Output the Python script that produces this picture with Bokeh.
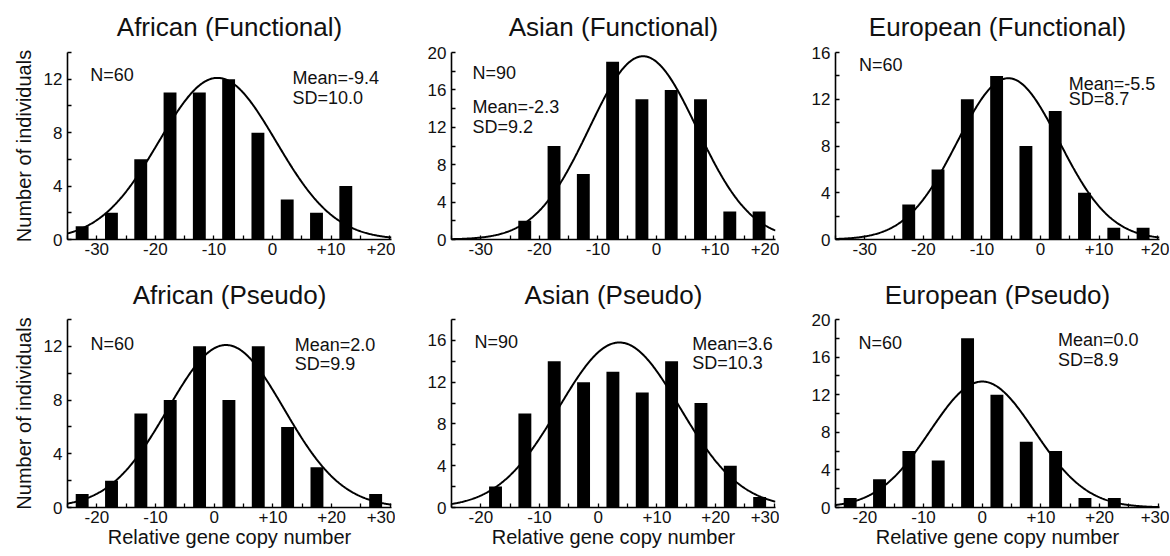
import numpy as np
from bokeh.plotting import figure
from bokeh.models import FixedTicker, Label, Range1d
from bokeh.layouts import column, row
from bokeh.embed import file_html
from bokeh.resources import INLINE

FONT = "Liberation Sans"

# ---------------- data ----------------
panel_titles = ["African (Functional)", "Asian (Functional)", "European (Functional)",
                "African (Pseudo)", "Asian (Pseudo)", "European (Pseudo)"]

functional_bins = [-32.5, -27.5, -22.5, -17.5, -12.5, -7.5, -2.5, 2.5, 7.5, 12.5, 17.5]
pseudo_bins = [-22.5, -17.5, -12.5, -7.5, -2.5, 2.5, 7.5, 12.5, 17.5, 22.5, 27.5]

african_functional = [1, 2, 6, 11, 11, 12, 8, 3, 2, 4, 0]
asian_functional = [0, 0, 2, 10, 7, 19, 15, 16, 15, 3, 3]
european_functional = [0, 0, 3, 6, 12, 14, 8, 11, 4, 1, 1]
african_pseudo = [1, 2, 7, 8, 12, 8, 12, 6, 3, 0, 1]
asian_pseudo = [0, 2, 9, 14, 12, 13, 11, 14, 10, 4, 1]
european_pseudo = [1, 3, 6, 5, 18, 12, 7, 6, 1, 1, 0]

sample_sizes = [60, 90, 60, 60, 90, 60]
means = [-9.4, -2.3, -5.5, 2.0, 3.6, 0.0]
sds = [10.0, 9.2, 8.7, 9.9, 10.3, 8.9]
curve_peaks = [12.1, 19.6, 13.8, 12.1, 15.8, 13.4]

functional_ticks = [-30, -20, -10, 0, 10, 20]
functional_minor = [-35, -25, -15, -5, 5, 15]
pseudo_ticks = [-20, -10, 0, 10, 20, 30]
pseudo_minor = [-25, -15, -5, 5, 15, 25]
tick_text = {-30: "-30", -20: "-20", -10: "-10", 0: "0", 10: "+10", 20: "+20", 30: "+30"}

y_tops = [14, 20, 16, 14, 18, 20]

counts = [african_functional, asian_functional, european_functional,
          african_pseudo, asian_pseudo, european_pseudo]

# ---------------- layout / annotation placement ----------------
ann = [
    dict(nx=-31.1, ny=12.3, mx=3.4, my=12.1, sy=10.6),
    dict(nx=-31.4, ny=17.8, mx=-31.4, my=14.2, sy=12.0),
    dict(nx=-31.0, ny=14.9, mx=4.8, my=13.3, sy=12.0),
    dict(nx=-21.1, ny=12.2, mx=13.7, my=12.1, sy=10.7),
    dict(nx=-21.1, ny=15.8, mx=16.0, my=15.7, sy=13.8),
    dict(nx=-21.1, ny=17.5, mx=12.9, my=17.8, sy=15.7),
]

col_widths = [395, 384, 390]
col_left = [67, 56, 56]
FRAME_W = 324
row_heights = [270, 285]
row_top = [52, 49]
row_frame_h = [187, 188]


def make_panel(i):
    r, c = divmod(i, 3)
    functional = r == 0
    xr = Range1d(-35, 20.3) if functional else Range1d(-25, 30.2)
    width = col_widths[c]
    left = col_left[c]
    right = width - left - FRAME_W
    height = row_heights[r]
    top = row_top[r]
    bottom = height - top - row_frame_h[r]
    p = figure(width=width, height=height, x_range=xr, y_range=Range1d(0, y_tops[i]),
               output_backend="svg", toolbar_location=None, tools="",
               min_border_left=left, min_border_right=right,
               min_border_top=top, min_border_bottom=bottom)
    p.outline_line_color = None
    p.xgrid.visible = False
    p.ygrid.visible = False
    p.background_fill_color = "white"
    p.border_fill_color = "white"

    p.title.text = panel_titles[i]
    p.title.align = "center"
    p.title.vertical_align = "top"
    p.title.text_font = FONT
    p.title.text_font_size = "26px"
    p.title.text_font_style = "normal"
    p.title.text_color = "#111111"
    p.title.standoff = 18 if functional else 15

    bins = functional_bins if functional else pseudo_bins
    p.vbar(x=bins, top=counts[i], width=2.2, bottom=0, fill_color="black", line_color=None)

    xs = np.linspace(xr.start, xr.end, 400)
    ys = curve_peaks[i] * np.exp(-0.5 * ((xs - means[i]) / sds[i]) ** 2)
    p.line(xs, ys, line_color="black", line_width=2)

    ticks = functional_ticks if functional else pseudo_ticks
    minor = functional_minor if functional else pseudo_minor
    p.xaxis.ticker = FixedTicker(ticks=ticks, minor_ticks=minor)
    p.xaxis.major_label_overrides = {t: tick_text[t] for t in ticks}
    yt = y_tops[i]
    p.yaxis.ticker = FixedTicker(ticks=list(range(0, yt + 1, 4)),
                                 minor_ticks=list(range(2, yt + 1, 4)))
    p.yaxis.major_label_overrides = {t: str(t) for t in range(0, yt + 1, 4)}

    for ax in (p.xaxis[0], p.yaxis[0]):
        ax.axis_line_color = "black"
        ax.axis_line_width = 1.6
        ax.major_tick_in = 4
        ax.major_tick_out = 0
        ax.minor_tick_in = 4
        ax.minor_tick_out = 0
        ax.major_tick_line_color = "black"
        ax.minor_tick_line_color = "black"
        ax.major_tick_line_width = 1.3
        ax.minor_tick_line_width = 1.3
        ax.major_label_text_font = FONT
        ax.major_label_text_font_size = "17px"
        ax.major_label_text_color = "#111111"
        ax.axis_label_text_font = FONT
        ax.axis_label_text_font_size = "20px"
        ax.axis_label_text_font_style = "normal"
        ax.axis_label_text_color = "#111111"
    p.xaxis.major_label_standoff = 3
    p.yaxis.major_label_standoff = 5

    if c == 0:
        p.yaxis.axis_label = "Number of individuals"
        p.yaxis.axis_label_standoff = 6
    if r == 1:
        p.xaxis.axis_label = "Relative gene copy number"
        p.xaxis.axis_label_standoff = 0

    a = ann[i]
    style = dict(text_font=FONT, text_font_size="18px", text_color="#111111",
                 text_align="left", text_baseline="middle")
    p.add_layout(Label(x=a["nx"], y=a["ny"], text="N=%d" % sample_sizes[i], **style))
    p.add_layout(Label(x=a["mx"], y=a["my"], text="Mean=%.1f" % means[i], **style))
    p.add_layout(Label(x=a["mx"], y=a["sy"], text="SD=%.1f" % sds[i], **style))
    return p


panels = [make_panel(i) for i in range(6)]
layout = column(row(*panels[:3], spacing=0), row(*panels[3:], spacing=0), spacing=0)

open("out.html", "w").write(file_html(layout, INLINE, title="Gene copy number distributions"))
